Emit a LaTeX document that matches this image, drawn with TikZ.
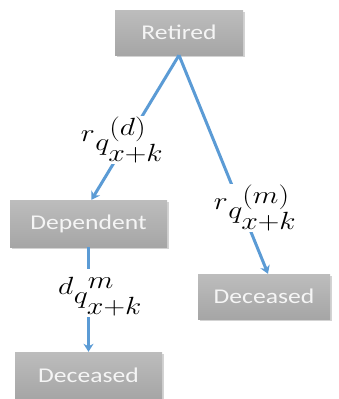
\documentclass[tikz,border=0pt]{standalone}
\usepackage{graphicx}
\usepackage{fontspec}
\setsansfont[FakeStretch=1.22]{Carlito}
\usetikzlibrary{shadows,arrows.meta,calc}
\DeclareMathSizes{31}{31}{23}{17}
\definecolor{arrowblue}{HTML}{5B9BD5}
\begin{document}
\begin{tikzpicture}[x=1pt,y=1pt,
  box/.style={rectangle, minimum width=#1, minimum height=46pt, inner sep=0pt,
    top color=gray!52, bottom color=gray!70, draw=none,
    drop shadow={opacity=0.35, shadow xshift=1.5pt, shadow yshift=-2pt},
    text=white!92!gray, font=\sffamily\fontsize{21}{24}\selectfont},
  conn/.style={draw=arrowblue, line width=3pt, -{Stealth[length=8pt,width=10pt]}},
  lab/.style={fill=white, inner sep=1pt, font=\fontsize{31}{34}\selectfont}]
\useasboundingbox (0,0) rectangle (338,-399);
\node[box=128pt, minimum height=45pt] (ret) at (179,-32.5) {Retired};
\node[box=157pt, minimum height=47pt] (dep) at (88.5,-223.5) {Dependent};
\node[box=132pt, minimum height=45pt] (dec1) at (264,-296.5) {Deceased};
\node[box=147pt] (dec2) at (88.5,-375) {Deceased};
\draw[conn] (ret.south) -- ($(dep.north)+(3,0)$);
\draw[conn] (ret.south) -- ($(dec1.north)+(4,0)$);
\draw[conn] (dep.south) -- (dec2.north);
\node[lab] (l1) at (122,-140) {\scalebox{1.2}[1]{${}^{r}q^{(d)}_{x+k}$}};
\node[lab] (l2) at (255,-208) {\scalebox{1.2}[1]{${}^{r}q^{(m)}_{x+k}$}};
\node[lab] (l3) at (100,-293) {\scalebox{1.2}[1]{${}^{d}q^{\vphantom{(}m}_{x+k}$}};
\end{tikzpicture}
\end{document}
